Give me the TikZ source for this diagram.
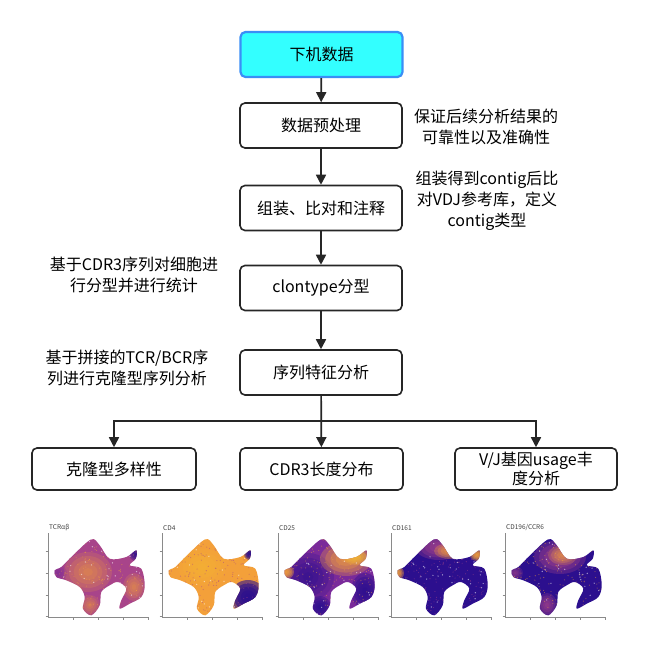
\documentclass[tikz,border=0pt]{standalone}
\usepackage{fontspec}
\setmainfont{Noto Sans CJK SC}
\usetikzlibrary{arrows.meta}
\definecolor{cyanfill}{HTML}{33FFFF}
\definecolor{cyanedge}{HTML}{3A8EF6}
\definecolor{pdark}{HTML}{2C0F8E}
\definecolor{ppurple}{HTML}{7A2A9A}
\definecolor{pmag}{HTML}{A8448A}
\definecolor{porange}{HTML}{F3A03A}
\definecolor{pyellow}{HTML}{F8C030}
\definecolor{axisgray}{HTML}{8A8A8A}
\tikzset{
  box/.style={draw=black!85, line width=1.6pt, rounded corners=5pt, minimum width=162pt,
    minimum height=45pt, font=\fontsize{16}{20}\selectfont, align=center, fill=white, inner sep=2pt},
  topbox/.style={box, fill=cyanfill, draw=cyanedge, line width=2.2pt},
  arr/.style={-{Triangle[length=10pt,width=10pt]}, line width=1.7pt, draw=black!85},
  note/.style={font=\fontsize{16}{21}\selectfont, align=center, inner sep=0pt},
  plotlabel/.style={font=\fontsize{6.5}{7}\selectfont, text=black!75, inner sep=0pt, anchor=south west},
  axisline/.style={draw=axisgray, line width=0.6pt}
}
\def\blob{plot[smooth cycle,tension=0.55] coordinates {(6.7,46.7) (13.3,50) (25,61.7) (43.3,77.7) (51.7,71.7) (61.7,58.3) (78.3,60) (88.3,66.7) (87.7,58.3) (81.7,51.7) (93.3,48.3) (96.7,31.7) (93.3,20) (81.7,13.3) (71.7,8.3) (73.3,16.7) (78.3,28.3) (70,35) (61.7,31.7) (53.3,25) (51.7,11.7) (43.3,1.7) (35,8.3) (36.7,20) (31.7,30) (18.3,36.7) (8.3,40)}}
% soft patch: colour, x, y, rx, ry, opacity
\newcommand\softpatch[6]{%
  \foreach \s in {1,0.8,0.6,0.4,0.2} {\fill[#1, opacity=#6] (#2,#3) ellipse ({#4*\s} and {#5*\s});}}
% #1 x origin, #2 label, #3 base colour, #4 overlays, #5 speckle colour
\newcommand\umapplot[5]{%
  \begin{scope}[shift={(#1,617)},yscale=-1]
    \draw[axisline] (0,84) -- (0,0) -- (100,0);
    \foreach \t in {1,22,44,66} {\draw[axisline] (-2.5,\t) -- (0,\t);}
    \foreach \t in {25,50,75,100} {\draw[axisline] (\t,0) -- (\t,-2.5);}
    \node[plotlabel] at (1,86) {#2};
    \begin{scope}
      \clip \blob;
      \fill[#3] (0,0) rectangle (100,84);
      #4
      \foreach \i in {1,...,260} {\fill[#5, opacity=0.55] (rnd*100,rnd*84) circle (0.55);}
      \foreach \i in {1,...,60} {\fill[white, opacity=0.55] (rnd*100,rnd*84) circle (0.7);}
    \end{scope}
  \end{scope}}
\begin{document}
\begin{tikzpicture}[x=1pt,y=-1pt]
\useasboundingbox[fill=white] (0,0) rectangle (650,670);
% main chain
\node[topbox] (n1) at (321.5,54.5) {下机数据};
\node[box] (n2) at (321,125.5) {数据预处理};
\node[box] (n3) at (321,208) {组装、比对和注释};
\node[box] (n4) at (321,288) {clontype分型};
\node[box] (n5) at (321,372.5) {序列特征分析};
% bottom row
\node[box, minimum width=164pt, minimum height=42pt] (b1) at (114,469) {克隆型多样性};
\node[box, minimum width=163pt, minimum height=42pt] (b2) at (321.5,469) {CDR3长度分布};
\node[box, minimum width=162pt, minimum height=42pt, inner sep=0pt, font=\fontsize{16}{19}\selectfont] (b3) at (536,469) {V/J基因usage丰\\度分析};
% notes
\node[note] (a1) at (486,127) {保证后续分析结果的\\可靠性以及准确性};
\node[note] (a2) at (487,201) {组装得到contig后比\\对VDJ参考库，定义\\contig类型};
\node[note] (a3) at (134,275) {基于CDR3序列对细胞进\\行分型并进行统计};
\node[note] (a4) at (127,368) {基于拼接的TCR/BCR序\\列进行克隆型序列分析};
% connectors
\draw[arr] (n1) -- (n2);
\draw[arr] (n2) -- (n3);
\draw[arr] (n3) -- (n4);
\draw[arr] (n4) -- (n5);
\coordinate (br) at (321,421);
\draw[arr] (n5) -- (b2);
\draw[arr] (br) -| (b1.north);
\draw[arr] (br) -| (b3.north);
% UMAP thumbnails
\pgfmathsetseed{7}
\umapplot{48}{TCRαβ}{pmag}{%
  \softpatch{porange}{40}{45}{24}{20}{0.18}
  \softpatch{porange}{86}{30}{11}{14}{0.18}
  \softpatch{porange}{42}{12}{10}{10}{0.15}
  \softpatch{pdark}{88}{63}{7}{7}{0.35}
  \softpatch{ppurple}{10}{44}{9}{8}{0.2}}{porange}
\umapplot{162}{CD4}{porange}{%
  \softpatch{pdark}{86}{20}{18}{17}{0.6}
  \softpatch{pdark}{88}{63}{6}{6}{0.5}
  \softpatch{pyellow}{40}{50}{24}{18}{0.12}}{pmag}
\umapplot{278}{CD25}{ppurple}{%
  \softpatch{pdark}{30}{40}{26}{24}{0.25}
  \softpatch{porange}{68}{58}{26}{17}{0.3}
  \softpatch{pyellow}{78}{60}{13}{8}{0.25}
  \softpatch{porange}{8}{45}{8}{7}{0.4}
  \softpatch{pdark}{42}{10}{11}{11}{0.4}
  \softpatch{pdark}{87}{26}{14}{18}{0.4}}{porange}
\umapplot{391}{CD161}{pdark}{%
  \softpatch{pmag}{48}{70}{24}{13}{0.3}
  \softpatch{porange}{60}{66}{17}{8}{0.3}
  \softpatch{porange}{86}{62}{7}{6}{0.4}
  \softpatch{porange}{6}{44}{7}{7}{0.4}}{pmag}
\umapplot{505}{CD196/CCR6}{pdark}{%
  \softpatch{pmag}{55}{60}{26}{17}{0.3}
  \softpatch{porange}{58}{62}{15}{10}{0.22}
  \softpatch{pmag}{42}{12}{10}{12}{0.25}
  \softpatch{pmag}{10}{44}{8}{7}{0.2}}{porange}
\end{tikzpicture}
\end{document}
